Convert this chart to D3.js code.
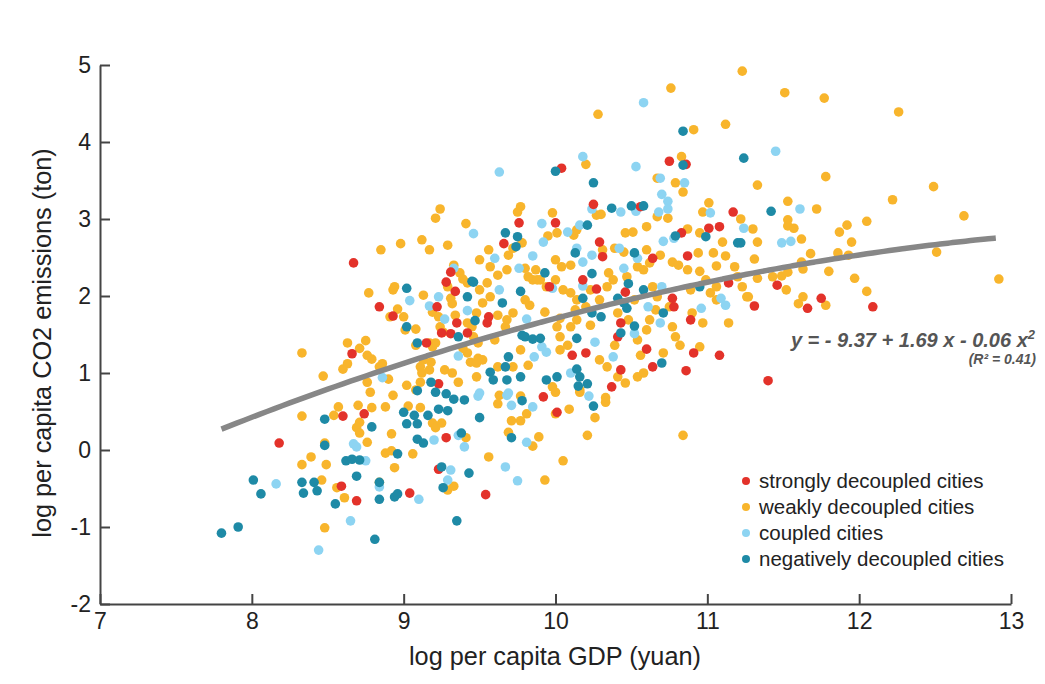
<!DOCTYPE html>
<html>
<head>
<meta charset="utf-8">
<script src="https://cdn.jsdelivr.net/npm/d3@7"></script>
<style>
  html, body { margin: 0; padding: 0; background: #fff; }
  svg { display: block; }
  text { font-family: "Liberation Sans", Arial, Helvetica, sans-serif; }
</style>
</head>
<body>
<div id="chart"></div>
<script>
// ---------------- data ----------------
const categories = ["strongly decoupled cities", "weakly decoupled cities", "coupled cities", "negatively decoupled cities"];
const xTicks = [7, 8, 9, 10, 11, 12, 13];
const yTicks = [-2, -1, 0, 1, 2, 3, 4, 5];
const fitCoef = [-9.33, 1.681, -0.0577];   // drawn quadratic fit
const fitRange = [7.8, 12.93];
const equationText = "y = - 9.37 + 1.69 x - 0.06 x";
const r2Text = "(R\u00B2 = 0.41)";

// [log GDP, log CO2]
const strongly = [
[8.18,0.09],[8.59,-0.47],[8.69,-0.66],[8.60,0.44],[8.74,0.47],[9.04,-0.56],[9.28,0.16],[9.23,0.86],
[9.23,-0.25],[9.54,-0.58],[9.92,0.69],[10.01,0.49],[8.67,2.43],[8.84,1.86],[8.93,1.74],[9.22,1.86],
[9.25,1.52],[9.31,1.51],[9.35,1.65],[9.31,2.31],[9.28,2.18],[9.34,2.06],[9.42,1.52],[9.15,1.39],
[8.66,1.25],[10.25,3.19],[10.56,3.16],[11.17,3.09],[11.01,2.88],[11.08,2.90],[10.83,2.82],[10.87,2.52],
[10.64,2.49],[10.29,2.70],[10.31,2.51],[10.00,2.95],[9.66,2.68],[9.76,2.95],[9.56,1.73],[9.55,1.65],
[9.96,2.12],[10.27,2.09],[10.18,2.21],[10.46,2.05],[10.77,1.97],[10.78,1.86],[10.43,1.65],[10.41,1.47],
[10.60,1.31],[10.89,1.69],[10.91,1.26],[10.86,1.03],[11.14,2.17],[10.20,1.26],[10.11,1.23],[10.43,1.04],
[10.37,0.82],[10.64,1.08],[10.75,3.75],[10.86,3.71],[10.04,3.66],[11.46,2.14],[11.75,1.97],[11.66,1.84],
[12.09,1.86],[11.31,1.87],[11.40,0.90],[11.08,1.23]
];
const weakly = [
[8.46,-0.39],[8.48,-1.01],[8.48,0.09],[8.33,0.44],[8.33,-0.19],[8.39,-0.09],[8.49,-0.19],[8.56,-0.49],
[8.61,-0.62],[8.57,0.56],[8.54,0.45],[8.71,0.36],[8.69,0.29],[8.71,0.22],[8.76,0.10],[8.70,0.58],
[8.79,0.55],[8.76,0.88],[8.78,0.75],[8.88,0.56],[8.92,0.21],[8.88,-0.04],[8.92,-0.01],[8.94,-0.23],
[8.84,-0.42],[9.06,-0.05],[9.03,0.57],[9.11,0.55],[9.19,0.35],[9.21,0.29],[9.25,0.35],[9.41,0.16],
[9.29,-0.52],[9.33,-0.47],[9.62,0.60],[9.63,0.71],[9.77,0.70],[10.00,0.75],[10.16,0.75],[10.33,0.62],
[10.00,0.47],[10.09,0.53],[10.26,0.42],[9.81,0.47],[9.71,0.38],[9.77,0.38],[9.69,0.23],[9.89,0.17],
[9.85,0.05],[10.21,0.19],[10.84,0.19],[9.56,-0.09],[10.05,-0.14],[9.93,-0.39],
[9.24,3.13],[9.21,3.01],[9.41,2.94],[8.85,2.60],[8.98,2.68],[9.12,2.73],[9.17,2.60],[9.29,2.66],
[8.77,2.04],[8.93,2.08],[8.94,2.12],[8.96,1.83],[8.91,1.73],[9.00,1.73],[9.01,1.56],[9.08,1.57],
[9.13,2.01],[9.19,1.79],[9.23,1.73],[9.24,1.60],[9.26,1.53],[9.33,2.40],[9.37,2.30],[9.39,2.22],
[9.42,2.17],[9.29,2.12],[9.31,1.97],[9.32,1.90],[9.34,1.75],[9.42,1.65],[9.45,1.60],[9.46,1.47],
[9.08,1.36],[9.17,1.39],[9.19,1.34],[9.21,1.39],[8.63,1.39],[8.75,1.42],[8.71,1.32],[8.76,1.23],
[8.79,1.18],[8.33,1.26],[8.47,0.96],[8.60,1.05],[8.63,1.12],[8.86,1.12],[8.84,1.08],[8.90,0.92],
[8.93,0.71],[9.02,0.84],[9.08,0.78],[9.11,1.08],[9.12,1.00],[9.11,0.88],[9.17,1.04],[9.18,1.14],
[9.13,1.17],[9.27,1.04],[9.32,1.00],[9.36,0.88],[9.42,1.26],[9.44,1.14],[9.48,1.13],[9.39,1.32],
[9.49,1.39],[9.49,1.19],
[10.79,3.47],[10.84,3.35],[9.77,3.16],[9.75,3.09],[10.27,3.05],[10.30,3.06],[10.67,3.03],[10.74,3.01],
[11.01,3.21],[10.97,3.09],[10.87,2.87],[10.95,2.82],[11.10,2.70],[11.04,2.56],[11.12,2.52],[10.94,2.56],
[11.18,2.38],[11.06,2.39],[10.95,2.32],[10.77,2.44],[10.81,2.40],[10.87,2.34],[10.60,2.90],[10.46,2.82],
[10.51,2.83],[10.62,2.43],[10.58,2.34],[10.54,2.38],[10.47,2.25],[10.60,2.60],[10.12,2.79],[10.14,2.86],
[10.31,2.60],[10.39,2.62],[10.45,2.57],[10.01,2.82],[9.98,3.08],[9.95,2.78],[10.00,2.47],[10.04,2.38],
[10.10,2.40],[9.87,2.34],[9.80,2.36],[9.85,2.21],[9.90,2.21],[9.72,2.62],[9.69,2.53],[9.78,2.69],
[9.56,2.60],[9.50,2.47],[9.57,2.38],[9.62,2.27],[9.68,2.34],[9.50,2.08],[9.55,2.17],[9.57,1.99],
[9.52,1.91],[9.48,1.78],[9.62,1.75],[9.68,1.69],[9.72,1.78],[9.67,1.60],[9.82,2.25],[9.88,2.21],
[9.94,2.12],[10.00,2.21],[10.05,2.08],[10.10,2.04],[10.14,1.95],[10.35,2.30],[10.38,2.21],[10.34,2.12],
[10.20,1.86],[10.14,1.69],[10.64,2.12],[10.67,1.99],[10.75,1.86],[10.41,1.78],[10.48,1.69],[10.54,1.43],
[10.60,1.56],[10.62,1.69],[10.77,1.60],[10.79,1.47],[10.90,1.78],[10.97,1.65],[10.95,1.34],[11.02,2.04],
[11.06,1.95],[11.14,1.65],[11.06,2.12],[11.20,2.25],[11.27,1.99],[9.52,1.17],[9.62,1.08],[9.72,1.08],
[9.82,1.10],[9.48,0.95],[9.98,0.82],[10.16,0.78],[10.03,1.47],[10.08,1.36],[10.10,1.60],[10.01,1.60],
[10.34,1.08],[10.41,0.95],[10.46,0.87],[10.54,0.95],[10.58,1.00],[10.71,1.26],[10.33,0.68],
[11.23,4.92],[11.51,4.64],[11.77,4.57],[12.26,4.39],[11.78,3.55],[11.33,3.44],[12.49,3.42],[11.53,3.23],
[12.22,3.25],[11.72,3.13],[12.69,3.04],[11.22,3.00],[11.30,2.87],[11.53,2.99],[11.53,2.91],[11.57,2.88],
[12.05,2.97],[11.92,2.92],[11.87,2.83],[11.95,2.70],[11.62,2.74],[11.33,2.70],[11.31,2.48],[11.68,2.55],
[11.86,2.56],[11.93,2.53],[12.51,2.57],[11.62,2.44],[11.63,2.35],[11.80,2.32],[11.97,2.23],[12.92,2.22],
[12.05,2.06],[11.43,2.25],[11.49,2.26],[11.53,2.31],[11.33,2.23],[11.52,2.08],[11.63,1.99],[11.60,1.90],
[11.78,1.88],[11.26,1.99],[11.23,2.12],
[10.76,4.70],[10.28,4.36],[11.12,4.23],[10.91,4.16],[10.83,3.81],[10.20,3.71],[10.67,3.53],
[9.83,1.88],[9.93,1.79],[10.03,1.71],[10.23,1.62],[10.29,1.95],[10.39,1.36],[10.52,1.95],[10.66,1.82],
[10.89,2.08],[10.99,2.21],[9.60,1.43],[9.80,1.95],[10.23,2.08],[10.03,1.30],[10.29,1.17],[9.77,1.30],
[10.82,1.36],[10.56,1.23],[10.13,1.82],[10.69,2.53]
];
const coupled = [
[8.16,-0.44],[8.44,-1.30],[8.84,-0.48],[9.10,-0.64],[9.20,0.13],[8.75,-0.14],[8.67,0.08],[8.69,0.04],
[8.65,-0.92],[9.36,0.19],[9.40,0.04],[9.31,-0.26],[9.29,-0.39],[9.49,0.70],[9.68,0.71],[9.71,0.58],
[9.85,0.56],[10.22,0.70],[9.81,0.10],[9.67,-0.22],[9.75,-0.40],[9.46,2.81],[9.04,1.94],[9.23,1.99],
[9.17,1.87],[9.27,1.70],[9.33,2.36],[9.42,1.81],[8.86,0.94],[9.36,1.22],[10.85,3.47],[10.70,3.32],
[10.74,3.23],[10.24,3.13],[10.43,3.09],[10.53,3.10],[10.68,3.09],[10.74,3.13],[11.02,3.08],[11.24,2.88],
[10.71,2.71],[10.78,2.75],[10.45,2.36],[10.54,2.49],[10.16,2.92],[10.42,2.62],[10.24,2.53],[10.18,2.44],
[10.14,2.62],[10.08,2.83],[9.91,2.94],[9.92,2.70],[9.85,2.52],[9.76,2.36],[9.60,2.49],[9.63,2.08],
[9.81,1.70],[9.98,2.10],[10.18,2.13],[10.61,1.86],[10.70,2.12],[10.69,1.65],[10.52,1.51],[10.96,1.84],
[11.09,1.97],[11.12,1.88],[9.91,1.34],[9.94,1.27],[9.86,1.21],[9.50,0.74],[9.69,0.74],[10.10,1.00],
[10.26,1.40],[10.38,1.21],[11.45,3.88],[11.49,2.69],[11.55,2.71],[11.61,3.13],[10.58,4.51],[10.18,3.81],
[9.63,3.61],[10.53,3.68],[10.69,3.53]
];
const negatively = [
[7.80,-1.08],[7.91,-1.00],[8.01,-0.39],[8.06,-0.57],[8.33,-0.42],[8.34,-0.56],[8.41,-0.42],[8.43,-0.53],
[8.48,0.40],[8.48,0.06],[8.55,-0.70],[8.81,-1.16],[8.69,-0.34],[8.62,-0.14],[8.66,-0.12],[8.71,-0.13],
[8.79,0.30],[8.84,-0.42],[8.84,-0.64],[8.94,-0.61],[8.96,-0.57],[8.96,-0.05],[9.09,0.14],[9.13,0.09],
[9.00,0.49],[9.02,0.34],[9.09,0.34],[9.07,0.45],[9.16,0.45],[9.23,0.53],[9.29,0.51],[9.09,0.77],
[9.21,0.75],[9.28,0.73],[9.18,0.88],[9.33,0.66],[9.40,0.65],[9.38,0.22],[9.25,-0.22],[9.26,-0.49],
[9.43,-0.30],[9.35,-0.92],[9.50,0.42],[9.78,0.64],[9.71,0.16],[10.25,0.57],[9.02,2.10],[9.02,1.60],
[9.36,1.47],[9.45,2.19],[9.42,1.99],[9.47,1.68],[9.09,1.39],[10.25,3.47],[10.37,3.14],[10.50,3.17],
[10.58,3.17],[10.99,2.77],[11.20,2.69],[10.79,2.78],[10.52,2.56],[10.21,2.92],[10.13,2.56],[9.93,2.30],
[9.67,2.82],[9.75,2.77],[9.74,2.64],[9.46,2.18],[9.77,2.06],[9.65,1.91],[10.24,2.29],[10.18,1.97],
[10.24,1.78],[10.30,1.73],[10.41,1.97],[10.48,2.16],[10.58,2.08],[10.47,1.84],[10.45,1.91],[10.71,1.78],
[10.52,1.61],[10.43,1.52],[10.95,2.12],[9.78,1.49],[9.80,1.47],[9.85,1.44],[9.90,1.45],[9.69,1.21],
[9.67,1.08],[9.57,1.01],[9.59,0.91],[9.68,0.91],[9.77,0.95],[9.94,0.91],[10.01,0.95],[10.14,1.05],
[10.16,0.95],[10.21,0.86],[10.15,0.83],[10.14,1.45],[10.70,1.13],[10.84,4.14],[10.00,3.62],[10.84,3.70],
[11.24,3.79],[11.42,3.10],[11.22,2.69]
];
const seriesData = [strongly, weakly, coupled, negatively];
const colors = ["#e3322a", "#f8b52c", "#8dd4f2", "#1e8aa6"];

// ---------------- drawing ----------------
const W = 1045, H = 684;
const svg = d3.select("#chart").append("svg").attr("width", W).attr("height", H);

const x = d3.scaleLinear().domain([7, 13]).range([100, 1011]);
const y = d3.scaleLinear().domain([-2, 5]).range([604, 65]);

// points
const pts = [];
seriesData.forEach((arr, i) => arr.forEach(d => pts.push({x: d[0], y: d[1], c: i})));
const order = [1, 2, 0, 3];
order.forEach(ci => {
  svg.append("g").selectAll("circle")
    .data(pts.filter(p => p.c === ci))
    .join("circle")
    .attr("cx", d => x(d.x))
    .attr("cy", d => y(d.y))
    .attr("r", 4.8)
    .attr("fill", colors[ci]);
});

// fit line
const fx = d3.range(fitRange[0], fitRange[1] + 0.0001, 0.05);
const fitPts = fx.map(v => [v, fitCoef[0] + fitCoef[1] * v + fitCoef[2] * v * v]);
svg.append("path")
  .datum(fitPts)
  .attr("d", d3.line().x(d => x(d[0])).y(d => y(d[1])).curve(d3.curveBasis))
  .attr("fill", "none")
  .attr("stroke", "#878787")
  .attr("stroke-width", 5.5);

// axes
const axisColor = "#444";
const fmt = d => String(d);
const xAxis = svg.append("g").attr("transform", "translate(0,604)")
  .call(d3.axisBottom(x).tickValues(xTicks).tickFormat(fmt).tickSizeInner(-10).tickSizeOuter(0).tickPadding(9));
const yAxis = svg.append("g").attr("transform", "translate(100,0)")
  .call(d3.axisLeft(y).tickValues(yTicks).tickFormat(fmt).tickSizeInner(-10).tickSizeOuter(0).tickPadding(9));
[xAxis, yAxis].forEach(a => {
  a.select(".domain").attr("stroke", axisColor).attr("stroke-width", 2);
  a.selectAll(".tick line").attr("stroke", axisColor).attr("stroke-width", 2);
  a.selectAll(".tick text").attr("fill", "#222").style("font-size", "23px")
   .style("font-family", "'Liberation Sans', Arial, sans-serif");
});
xAxis.selectAll(".tick text").attr("dy", "0.71em");

// axis titles
svg.append("text")
  .attr("x", 555).attr("y", 665)
  .attr("text-anchor", "middle")
  .attr("fill", "#222")
  .style("font-size", "25.3px")
  .text("log per capita GDP (yuan)");
svg.append("text")
  .attr("transform", "translate(51,343) rotate(-90)")
  .attr("text-anchor", "middle")
  .attr("fill", "#222")
  .style("font-size", "25.3px")
  .text("log per capita CO2 emissions (ton)");

// equation
const eq = svg.append("text")
  .attr("x", 1035).attr("y", 347)
  .attr("text-anchor", "end")
  .attr("fill", "#555")
  .style("font-size", "20px")
  .style("font-weight", "bold")
  .style("font-style", "italic");
eq.append("tspan").text(equationText);
eq.append("tspan").attr("dy", -8).style("font-size", "13px").text("2");
svg.append("text")
  .attr("x", 1036).attr("y", 364)
  .attr("text-anchor", "end")
  .attr("fill", "#555")
  .style("font-size", "14px")
  .style("font-weight", "bold")
  .style("font-style", "italic")
  .text(r2Text);

// legend
const lg = svg.append("g").attr("transform", "translate(746,481)");
categories.forEach((c, i) => {
  const g = lg.append("g").attr("transform", `translate(0,${i * 26})`);
  g.append("circle").attr("r", 4).attr("fill", colors[i]);
  g.append("text").attr("x", 13).attr("y", 7)
    .attr("fill", "#222").style("font-size", "20.5px").text(c);
});
</script>
</body>
</html>
